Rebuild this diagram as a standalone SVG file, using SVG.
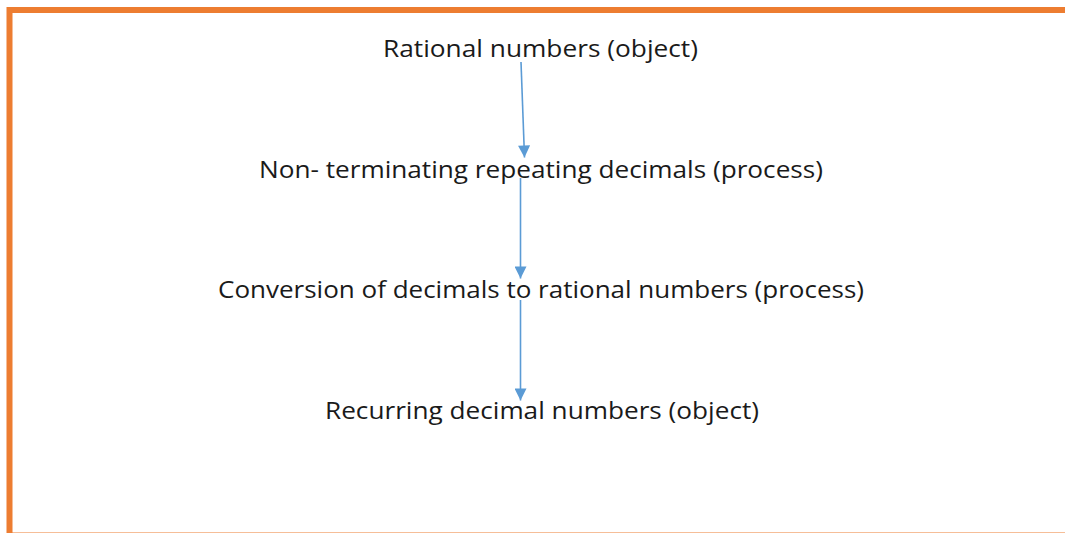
<svg xmlns="http://www.w3.org/2000/svg" width="1065" height="533" viewBox="0 0 1065 533">
<style>
.lbl{font-family:"Open Sans","Liberation Sans",sans-serif;font-size:24px;fill:#1a1a1a;text-anchor:middle}
.con{stroke:#5B9BD5;stroke-width:1.6;fill:none}
</style>
<defs>
<marker id="ah" viewBox="0 0 10 10" refX="10" refY="5" markerWidth="13" markerHeight="12" markerUnits="userSpaceOnUse" orient="auto">
<path d="M0,0 L10,5 L0,10 z" fill="#5B9BD5"/>
</marker>
</defs>
<rect x="9.5" y="10" width="1100" height="525.5" fill="#fff" stroke="#ED7D31" stroke-width="6"/>
<g id="connectors">
<line class="con" x1="521" y1="62" x2="524.5" y2="157.5" marker-end="url(#ah)"/>
<line class="con" x1="520.5" y1="178" x2="520.5" y2="278.5" marker-end="url(#ah)"/>
<line class="con" x1="520.5" y1="300" x2="520.5" y2="400.5" marker-end="url(#ah)"/>
</g>
<g id="n1"><text class="lbl" x="540.5" y="57" textLength="315" lengthAdjust="spacingAndGlyphs">Rational numbers (object)</text></g>
<g id="n2"><text class="lbl" x="541" y="178" textLength="564" lengthAdjust="spacingAndGlyphs">Non- terminating repeating decimals (process)</text></g>
<g id="n3"><text class="lbl" x="541" y="298" textLength="646" lengthAdjust="spacingAndGlyphs">Conversion of decimals to rational numbers (process)</text></g>
<g id="n4"><text class="lbl" x="542" y="419" textLength="434" lengthAdjust="spacingAndGlyphs">Recurring decimal numbers (object)</text></g>
</svg>
